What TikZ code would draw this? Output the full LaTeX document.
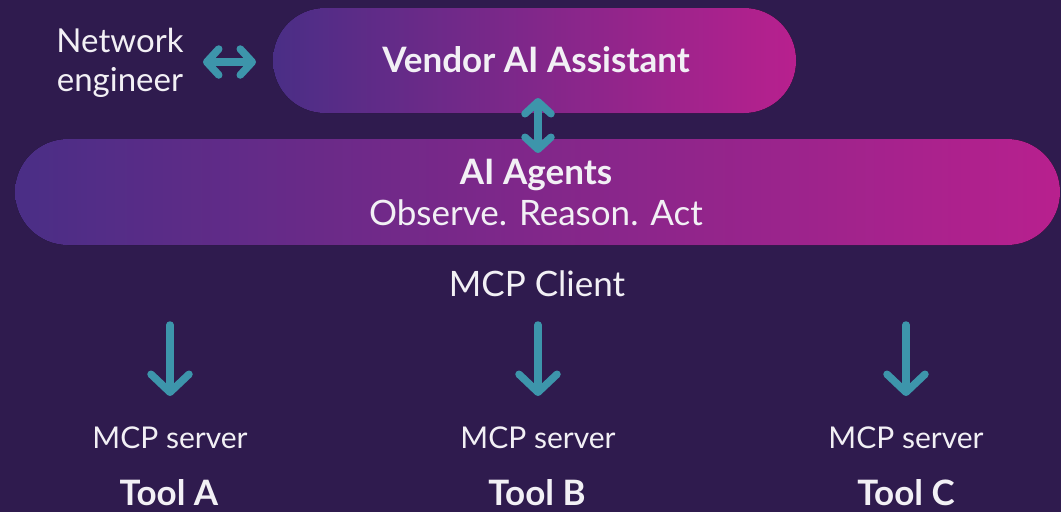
\documentclass[tikz,border=0pt]{standalone}
\usepackage{fontspec}
\setmainfont{Lato}
\usetikzlibrary{arrows.meta}
\definecolor{bg}{HTML}{2F1B4E}
\definecolor{pillL}{HTML}{4A2E86}
\definecolor{pillR}{HTML}{B8208E}
\definecolor{arr}{HTML}{3D95AB}
\definecolor{txt}{HTML}{F2F0F5}
\tikzset{
  lbl/.style={text=txt, inner sep=0pt, anchor=center},
  conn/.style={draw=arr, line width=7.5pt, line cap=round, line join=round},
  bigtip/.style={-{Straight Barb[length=18pt,width=38pt,line cap=round,line join=round]}},
  smalltip/.style={{Straight Barb[length=12pt,width=26pt,line cap=round,line join=round]}-{Straight Barb[length=12pt,width=26pt,line cap=round,line join=round]}},
}
\begin{document}
\begin{tikzpicture}[x=1pt,y=-1pt]
\fill[bg] (0,0) rectangle (1061,512);
\useasboundingbox (0,0) rectangle (1061,512);
% pills
\fill[rounded corners=52pt, left color=pillL, right color=pillR] (273,8) rectangle (796,113);
\fill[rounded corners=53pt, left color=pillL, right color=pillR] (15,139) rectangle (1060,245);
% text
\node[lbl, font=\fontsize{33}{39}\selectfont, align=center] (eng) at (120,63) {Network\\engineer};
\node[lbl, font=\fontsize{35}{40}\selectfont\bfseries] (vendor) at (536,60) {Vendor AI Assistant};
\node[lbl, font=\fontsize{35}{40}\selectfont\bfseries] (agents) at (536,175) {AI Agents};
\node[lbl, font=\fontsize{35}{40}\selectfont] (obs) at (536,213) {Observe. Reason. Act};
\node[lbl, font=\fontsize{35}{40}\selectfont] (client) at (537,284) {MCP Client};
\node[lbl, font=\fontsize{30}{36}\selectfont] (sA) at (170,438) {MCP server};
\node[lbl, font=\fontsize{30}{36}\selectfont] (sB) at (538,438) {MCP server};
\node[lbl, font=\fontsize{30}{36}\selectfont] (sC) at (906,438) {MCP server};
\node[lbl, font=\fontsize{35}{40}\selectfont\bfseries] (tA) at (169,493) {Tool A};
\node[lbl, font=\fontsize{35}{40}\selectfont\bfseries] (tB) at (537,493) {Tool B};
\node[lbl, font=\fontsize{35}{40}\selectfont\bfseries] (tC) at (906,493) {Tool C};
% connector endpoints
\coordinate (h1) at (203,62);
\coordinate (h2) at (256,62);
\coordinate (v1) at (538,98);
\coordinate (v2) at (538,153);
\coordinate (a1) at (170,325);
\coordinate (a2) at (170,396);
\coordinate (b1) at (538,325);
\coordinate (b2) at (538,396);
\coordinate (c1) at (906,325);
\coordinate (c2) at (906,396);
\draw[conn, smalltip] (h1) -- (h2);
\draw[conn, smalltip] (v1) -- (v2);
\draw[conn, bigtip] (a1) -- (a2);
\draw[conn, bigtip] (b1) -- (b2);
\draw[conn, bigtip] (c1) -- (c2);
\end{tikzpicture}
\end{document}
